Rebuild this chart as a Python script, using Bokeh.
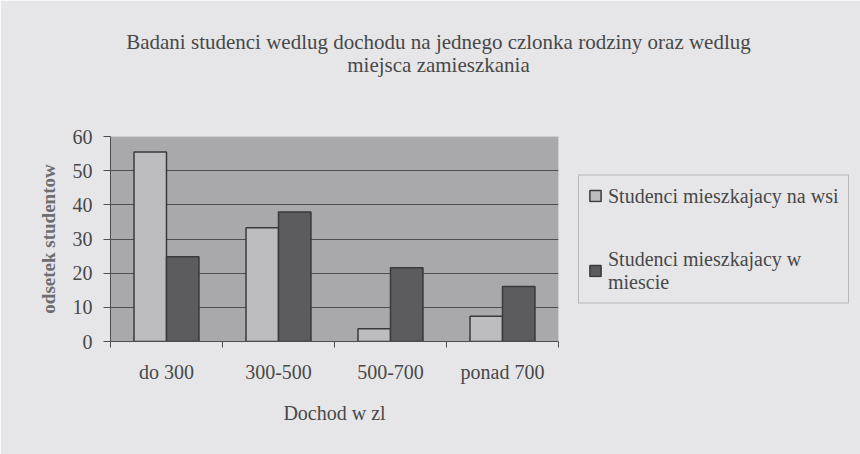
from bokeh.plotting import figure
from bokeh.models import (Range1d, FixedTicker, Label, Legend, LegendItem, ColumnDataSource)
from bokeh.embed import file_html
from bokeh.resources import INLINE

# ---- data ----
categories = ["do 300", "300-500", "500-700", "ponad 700"]
wies = [55.5, 33.3, 3.7, 7.4]
miasto = [24.8, 37.9, 21.6, 16.1]
y_ticks = [0, 10, 20, 30, 40, 50, 60]
series_names = ["Studenci mieszkajacy na wsi", "Studenci mieszkajacy w\nmiescie"]
title_lines = ["Badani studenci wedlug dochodu na jednego czlonka rodziny oraz wedlug",
               "miejsca zamieszkania"]
x_label = "Dochod w zl"
y_label = "odsetek studentow"

FONT = "Liberation Serif"
TXT = "#484848"
PAGE = "#e6e6e9"
LINE = "#4e4e4e"

n = len(categories)
idx = list(range(n))
centers = [i + 0.5 for i in idx]
bar_w = 0.29
off = 0.145
src = ColumnDataSource(dict(
    x1=[c - off for c in centers], x2=[c + off for c in centers],
    wies=wies, miasto=miasto))

p = figure(width=860, height=454, output_backend="svg", toolbar_location=None,
           x_range=Range1d(0, n), y_range=Range1d(y_ticks[0], y_ticks[-1]),
           frame_width=448, frame_height=205,
           min_border_left=110, min_border_right=0, min_border_top=136, min_border_bottom=113)
p.border_fill_color = PAGE
p.background_fill_color = "#a9a9ab"
p.outline_line_color = None

r1 = p.vbar(x="x1", top="wies", width=bar_w, source=src, fill_color="#bdbdbf",
            line_color="#3a3a3a", line_width=1.5)
r2 = p.vbar(x="x2", top="miasto", width=bar_w, source=src, fill_color="#5c5c5e",
            line_color="#3a3a3a", line_width=1.5)

# grid
p.xgrid.grid_line_color = None
p.ygrid.grid_line_color = LINE
p.ygrid.grid_line_width = 1
p.ygrid.ticker = FixedTicker(ticks=y_ticks)

# y axis
ya = p.yaxis[0]
ya.ticker = FixedTicker(ticks=y_ticks)
ya.axis_line_color = LINE
ya.major_tick_line_color = LINE
ya.major_tick_out = 7
ya.major_tick_in = 0
ya.minor_tick_line_color = None
ya.major_label_text_font = FONT
ya.major_label_text_font_size = "20px"
ya.major_label_text_color = TXT
ya.major_label_standoff = 11
ya.axis_label = y_label
ya.axis_label_text_font = FONT
ya.axis_label_text_font_size = "19px"
ya.axis_label_text_font_style = "bold"
ya.axis_label_text_color = "#6e6e70"
ya.axis_label_standoff = 11

# x axis
xa = p.xaxis[0]
xa.ticker = FixedTicker(ticks=centers, minor_ticks=[0] + [i + 1 for i in idx])
xa.major_label_overrides = {c: name for c, name in zip(centers, categories)}
xa.axis_line_color = LINE
xa.major_tick_line_color = None
xa.major_tick_out = 0
xa.major_tick_in = 0
xa.minor_tick_line_color = LINE
xa.minor_tick_out = 6
xa.minor_tick_in = 0
xa.major_label_text_font = FONT
xa.major_label_text_font_size = "20px"
xa.major_label_text_color = TXT
xa.major_label_standoff = 13
xa.axis_label = x_label
xa.axis_label_text_font = FONT
xa.axis_label_text_font_size = "20px"
xa.axis_label_text_font_style = "normal"
xa.axis_label_text_color = TXT
xa.axis_label_standoff = 16

# title: two centred lines placed in panels above the frame
# (screen units measured from each panel's left/bottom edge)
title_pos_y = [95, 48]
for line, ty in zip(title_lines, title_pos_y):
    p.add_layout(Label(x=328, y=ty, x_units="screen", y_units="screen", text=line,
                       text_align="center", text_baseline="middle", text_font=FONT,
                       text_font_size="21px", text_color=TXT), "above")

# legend (right side panel)
legend = Legend(items=[LegendItem(label=series_names[0], renderers=[r1]),
                       LegendItem(label=series_names[1], renderers=[r2])],
                location="center_left", orientation="vertical")
legend.label_text_font = FONT
legend.label_text_font_size = "20px"
legend.label_text_color = TXT
legend.glyph_width = 14
legend.glyph_height = 14
legend.label_standoff = 6
legend.spacing = 40
legend.padding = 9
legend.margin = 20
legend.border_line_color = "#8a8a8a"
legend.border_line_width = 1
legend.background_fill_color = PAGE
legend.background_fill_alpha = 1
legend.click_policy = "none"
p.add_layout(legend, "right")

open("out.html", "w").write(file_html(p, INLINE))
